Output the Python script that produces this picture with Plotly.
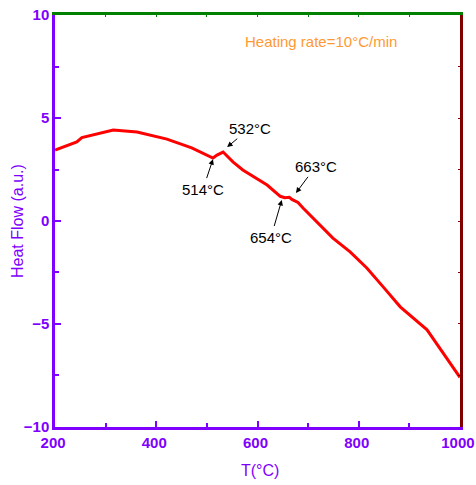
import plotly.graph_objects as go

temps = [200, 243, 253, 280, 315, 362, 421, 470, 512, 520, 532, 552, 571, 619, 645, 654, 663, 668, 680, 690, 720, 749, 783, 816, 850, 882, 935, 1000]
heat = [3.45, 3.84, 4.05, 4.2, 4.42, 4.32, 3.98, 3.55, 3.06, 3.2, 3.35, 2.86, 2.48, 1.75, 1.2, 1.13, 1.15, 1.05, 0.9, 0.63, -0.1, -0.83, -1.5, -2.28, -3.25, -4.17, -5.29, -7.6]

# annotation labels, arrow-head targets (data) and label centres (pixels)
ann_labels = ["532°C", "514°C", "663°C", "654°C"]
ann_x = [540, 512, 676, 648]
ann_y = [3.59, 3.0, 1.36, 1.02]
ann_px = [250, 203, 316, 271]
ann_py = [128, 189, 166, 237]

x_ticks = [200, 400, 600, 800, 1000]
y_ticks = [-10, -5, 0, 5, 10]

PURPLE = "#8000FF"
GREEN = "#008000"
DARKRED = "#800000"

fig = go.Figure()
fig.add_trace(go.Scatter(x=temps, y=heat, mode="lines",
                         line=dict(color="#FF0000", width=3), showlegend=False, hoverinfo="skip"))
fig.add_trace(go.Scatter(x=[200], y=[0], xaxis="x2", yaxis="y2", mode="markers",
                         marker=dict(opacity=0), showlegend=False, hoverinfo="skip"))

L, T, W, H = 55, 15, 405, 412
annotations = []
for lab, x, y, ax, ay in zip(ann_labels, ann_x, ann_y, ann_px, ann_py):
    px = L + (x - 200) / 800 * W
    py = T + (10 - y) / 20 * H
    annotations.append(dict(x=x, y=y, xref="x", yref="y", text=lab, showarrow=True,
                            ax=ax - px, ay=ay - py,
                            arrowhead=2, arrowsize=1.1, arrowwidth=1, arrowcolor="black",
                            standoff=0, startstandoff=1,
                            font=dict(family="Liberation Sans, Arial", size=15, color="black")))

annotations.append(dict(x=0.464, y=0.935, xref="paper", yref="paper", xanchor="left", yanchor="middle",
                        text="Heating rate=10°C/min", showarrow=False,
                        font=dict(family="Liberation Sans, Arial", size=15, color="#FF9933")))

titlefont = dict(family="Liberation Sans, Arial", size=16, color=PURPLE)
annotations.append(dict(x=(260 - L) / W, y=-(470 - T - H) / H, xref="paper", yref="paper",
                        xanchor="center", yanchor="middle", text="T(°C)", showarrow=False, font=titlefont))
annotations.append(dict(x=-(L - 17) / W, y=0.5, xref="paper", yref="paper", textangle=-90,
                        xanchor="center", yanchor="middle", text="Heat Flow (a.u.)", showarrow=False, font=titlefont))

tickfont = dict(family="Liberation Sans, Arial", size=15, color=PURPLE, weight="bold")

fig.update_layout(
    width=476, height=485,
    margin=dict(l=L, r=476 - L - W, t=T, b=485 - T - H, autoexpand=False),
    paper_bgcolor="white", plot_bgcolor="white",
    annotations=annotations,
    xaxis=dict(range=[199.9, 1000.1], tickvals=x_ticks, showgrid=False, zeroline=False, automargin=False,
               showline=True, linecolor=PURPLE, linewidth=2.5, ticks="inside", ticklen=6,
               tickwidth=2, tickcolor=PURPLE, tickfont=tickfont, ticklabeloverflow="allow",
               ticklabelshift=-2,
               minor=dict(tickvals=[300, 500, 700, 900], ticks="inside", ticklen=4, tickwidth=2, tickcolor=PURPLE)),
    yaxis=dict(range=[-10.01, 10.01], tickvals=y_ticks, showgrid=False, zeroline=False, automargin=False,
               showline=True, linecolor=PURPLE, linewidth=2.5, ticks="inside", ticklen=6,
               tickwidth=2, tickcolor=PURPLE, tickfont=tickfont, ticklabeloverflow="allow",
               minor=dict(tickvals=[-7.5, -2.5, 2.5, 7.5], ticks="inside", ticklen=4, tickwidth=2, tickcolor=PURPLE)),
    xaxis2=dict(range=[199.9, 1000.1], overlaying="x", side="top", showgrid=False, zeroline=False, automargin=False,
                showline=True, linecolor=GREEN, linewidth=2.5, ticks="inside", ticklen=2,
                tickcolor=GREEN, tickvals=[300, 400, 500, 600, 700, 800, 900], showticklabels=False),
    yaxis2=dict(range=[-10.01, 10.01], overlaying="y", side="right", showgrid=False, zeroline=False, automargin=False,
                showline=True, linecolor=DARKRED, linewidth=2.5, ticks="inside", ticklen=2,
                tickcolor=DARKRED, tickvals=[-7.5, -5, -2.5, 0, 2.5, 5, 7.5], showticklabels=False),
)

fig.write_html("out.html", config={"displayModeBar": False},
               post_script="document.body.style.margin='0';document.body.style.overflow='hidden';")
